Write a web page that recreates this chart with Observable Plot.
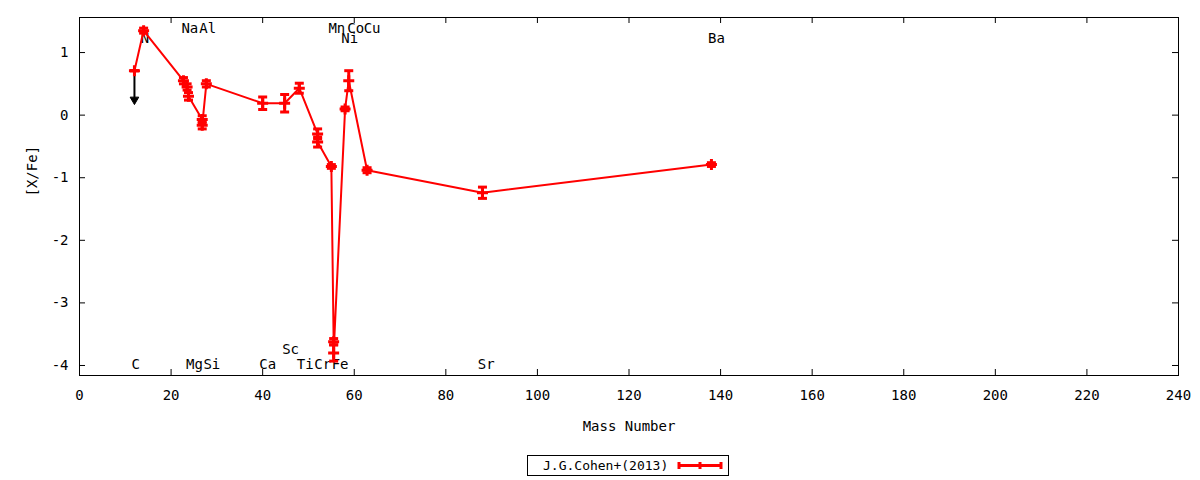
<!DOCTYPE html>
<html><head><meta charset="utf-8">
<script src="https://cdn.jsdelivr.net/npm/d3@7"></script>
<script src="https://cdn.jsdelivr.net/npm/@observablehq/plot@0.6"></script>
<style>
body{margin:0;background:#fff;font-family:"DejaVu Sans Mono",monospace;}
#wrap{position:relative;width:1200px;height:480px;background:#fff;}
#legend{position:absolute;left:527px;top:455px;width:200px;height:19px;border:1px solid #000;font-size:13px;}
#legend span{position:absolute;left:15px;top:0;line-height:19px;}
#legend svg{position:absolute;left:148px;top:0;}
</style></head><body><div id="wrap"></div>
<script>
// measurements (mass number, [X/Fe], error)
const massNumber = [12, 14, 22.7, 23.5, 23.8, 26.8, 26.8, 27.7, 40, 44.8, 48, 52, 52, 55, 55.5, 55.5, 58, 58.8, 62.8, 88, 138];
const xfe        = [0.71, 1.35, 0.55, 0.45, 0.30, -0.07, -0.16, 0.50, 0.19, 0.19, 0.43, -0.30, -0.43, -0.82, -3.62, -3.80, 0.10, 0.55, -0.88, -1.24, -0.79];
const xfeErr     = [0.0, 0.04, 0.05, 0.05, 0.06, 0.06, 0.06, 0.05, 0.10, 0.14, 0.08, 0.08, 0.08, 0.03, 0.05, 0.13, 0.03, 0.16, 0.04, 0.09, 0.03];

// upper limit (C)
const limitMass = [12];
const limitFrom = [0.71];
const limitTo   = [0.20];

// element labels
const labelNames = ["N", "Na", "Al", "Mn", "Co", "Cu", "Ni", "Ba", "C", "Mg", "Si", "Ca", "Sc", "Ti", "Cr", "Fe", "Sr"];
const labelMass  = [14.3, 24.1, 28.0, 56.2, 60.3, 63.9, 59.0, 139.1, 12.3, 25.1, 28.9, 41.1, 46.1, 49.3, 53.1, 56.9, 88.8];
const labelLevel = [1.22, 1.38, 1.38, 1.38, 1.38, 1.38, 1.22, 1.22, -3.98, -3.98, -3.98, -3.98, -3.74, -3.98, -3.98, -3.98, -3.98];

const xTicks = [0, 20, 40, 60, 80, 100, 120, 140, 160, 180, 200, 220, 240];
const yTicks = [-4, -3, -2, -1, 0, 1];

const data = massNumber.map((A, i) => ({A, v: xfe[i], e: xfeErr[i]}));
const limits = limitMass.map((A, i) => ({A, from: limitFrom[i], to: limitTo[i]}));
const labels = labelNames.map((t, i) => ({t, A: labelMass[i], y: labelLevel[i]}));

const plusSym = {draw(ctx, size){const r = Math.sqrt(size/Math.PI); ctx.moveTo(-r,0); ctx.lineTo(r,0); ctx.moveTo(0,-r); ctx.lineTo(0,r);}};
const capSym = {draw(ctx, size){const r = Math.sqrt(size/Math.PI); ctx.moveTo(-r,0); ctx.lineTo(r,0);}};

const chart = Plot.plot({
  width: 1200, height: 445,
  marginLeft: 79, marginRight: 22, marginTop: 17, marginBottom: 70,
  x: {domain: [0, 240]},
  y: {domain: [-4.16, 1.56]},
  style: {fontFamily: "DejaVu Sans Mono, monospace", fontSize: "14px", background: "white", color: "black", overflow: "visible"},
  marks: [
    Plot.ruleX(xTicks, {x: d => d, insetTop: 352, stroke: "black"}),
    Plot.ruleX(xTicks, {x: d => d, insetBottom: 352, stroke: "black"}),
    Plot.ruleY(yTicks, {y: d => d, insetRight: 1093, stroke: "black"}),
    Plot.ruleY(yTicks, {y: d => d, insetLeft: 1093, stroke: "black"}),
    Plot.axisX({ticks: xTicks, tickSize: 0, tickPadding: 15, label: null, tickFormat: d => String(d), fontSize: 14}),
    Plot.axisY({ticks: yTicks, tickSize: 0, tickPadding: 11, label: null, tickFormat: d => String(d), fontSize: 14}),
    Plot.text(["Mass Number"], {frameAnchor: "bottom", dy: 50, text: d => d, fontSize: 14, lineAnchor: "middle", dy: 51}),
    Plot.text(["[X/Fe]"], {frameAnchor: "left", dx: -47, rotate: -90, text: d => d, fontSize: 14}),
    Plot.text(labels, {x: "A", y: "y", text: "t", fontSize: 14, fill: "black"}),
    Plot.ruleX(limits, {x: "A", y1: "from", y2: "to", stroke: "black", strokeWidth: 2}),
    Plot.dot(limits, {x: "A", y: "to", symbol: "triangle", rotate: 180, r: 3.2, fill: "black", stroke: "black", strokeWidth: 1, dy: -3}),
    Plot.line(data, {x: "A", y: "v", stroke: "red", strokeWidth: 2, curve: "linear"}),
    Plot.ruleX(data, {x: "A", y1: d => d.v - d.e, y2: d => d.v + d.e, stroke: "red", strokeWidth: 3}),
    Plot.dot(data, {x: "A", y: d => d.v - d.e, symbol: capSym, r: 4.5, stroke: "red", strokeWidth: 3, fill: "none"}),
    Plot.dot(data, {x: "A", y: d => d.v + d.e, symbol: capSym, r: 4.5, stroke: "red", strokeWidth: 3, fill: "none"}),
    Plot.dot(data, {x: "A", y: "v", symbol: plusSym, r: 5.5, stroke: "red", strokeWidth: 3, fill: "none"}),
    Plot.frame({stroke: "black"})
  ]
});
const wrap = document.getElementById("wrap");
wrap.appendChild(chart);

const legend = document.createElement("div");
legend.id = "legend";
legend.innerHTML = '<span>J.G.Cohen+(2013)</span>' +
  '<svg width="48" height="19"><line x1="3" x2="45" y1="9.5" y2="9.5" stroke="red" stroke-width="3"/>' +
  '<line x1="3" x2="3" y1="6" y2="13" stroke="red" stroke-width="3"/>' +
  '<line x1="45" x2="45" y1="6" y2="13" stroke="red" stroke-width="3"/>' +
  '<line x1="24" x2="24" y1="6" y2="13" stroke="red" stroke-width="3"/></svg>';
wrap.appendChild(legend);
</script>
</body></html>
